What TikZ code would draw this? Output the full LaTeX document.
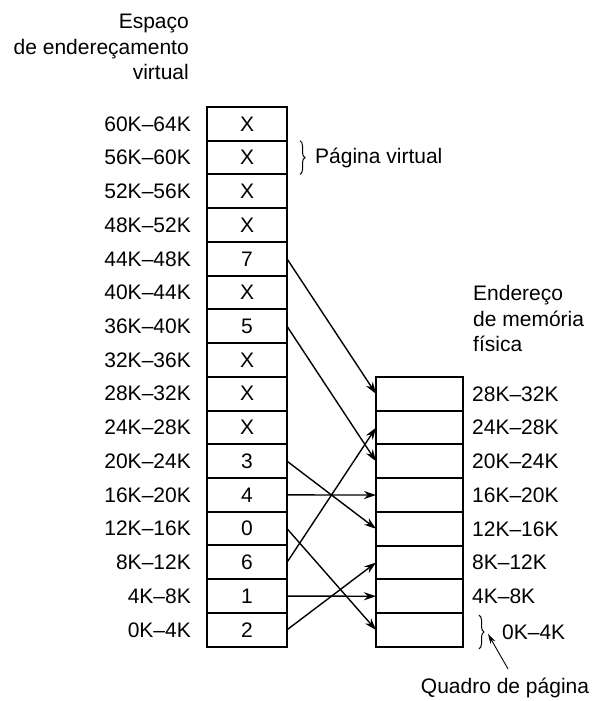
\documentclass[tikz,border=0pt]{standalone}
\usepackage{fontspec}
\setmainfont{Liberation Sans}
\usetikzlibrary{matrix,positioning,arrows.meta,decorations.pathreplacing}

\begin{document}
\begin{tikzpicture}[
    x=1pt, y=-1pt,
    every node/.style={font=\fontsize{21}{25.5}\selectfont},
    page/.style={minimum width=80pt, minimum height=33.73pt, draw=black, line width=2pt, inner sep=0pt},
    frame/.style={page, minimum width=87pt},
    addr/.style={inner sep=0pt},
    map/.style={-{Stealth[length=12pt, width=8pt]}, line width=1.4pt},
    pointer/.style={-{Stealth[length=10pt, width=5.5pt]}, line width=0.9pt},
    curly/.style={decorate, decoration={brace, amplitude=5pt}, line width=1pt}
]
\useasboundingbox (0,0) rectangle (592,701);

% Virtual pages
\matrix (vpages) [matrix of nodes, nodes={page}, inner sep=0pt, outer sep=0pt,
    row sep=-2pt, anchor=north west] at (206,106) {
    X \\ X \\ X \\ X \\ 7 \\ X \\ 5 \\ X \\ X \\ X \\ 3 \\ 4 \\ 0 \\ 6 \\ 1 \\ 2 \\
};

% Page frames
\matrix (frames) [matrix of nodes, nodes in empty cells, nodes={frame}, inner sep=0pt, outer sep=0pt,
    row sep=-2pt, anchor=north west] at (375,376) {
    \\ \\ \\ \\ \\ \\ \\ \\
};

% Address labels
\foreach \r in {1,...,16} {
    \pgfmathtruncatemacro\lo{64-4*\r}
    \pgfmathtruncatemacro\hi{\lo+4}
    \node[addr, left=16pt of vpages-\r-1] (vaddr-\r) {\lo K--\hi K};
}
\foreach \r in {1,...,7} {
    \pgfmathtruncatemacro\lo{32-4*\r}
    \pgfmathtruncatemacro\hi{\lo+4}
    \node[addr, right=9pt of frames-\r-1] (paddr-\r) {\lo K--\hi K};
}
\node[addr, right=39pt of frames-8-1, yshift=-2pt] (paddr-8) {0K--4K};

% Headings
\node[addr, align=right, above left=26pt and 17pt of vpages.north west] (vhead)
    {Espaço\\de endereçamento\\virtual};
\node[addr, align=left, above right=24pt and 9pt of frames.north east] (phead)
    {Endereço\\de memória\\física};

% Mapping
\foreach \v/\f in {5/1, 7/3, 11/5, 12/4, 13/8, 14/2, 15/7, 16/6}
    \draw[map] (vpages-\v-1.east) -- (frames-\f-1.west);

% Braces
\draw[curly] ([xshift=13pt]vpages-2-1.north east) -- ([xshift=13pt]vpages-2-1.south east);
\node[addr, right=28pt of vpages-2-1] (vpagelbl) {Página virtual};

\draw[curly] ([xshift=16pt, yshift=-2pt]frames-8-1.north east) -- ([xshift=16pt, yshift=-2pt]frames-8-1.south east);
\coordinate (ftip) at ([xshift=25pt, yshift=-4pt]frames-8-1.east);
\node[addr] (quadro) at (505,688) {Quadro de página};
\draw[pointer] ([xshift=3pt, yshift=9pt]quadro.north) -- (ftip);

\end{tikzpicture}
\end{document}
